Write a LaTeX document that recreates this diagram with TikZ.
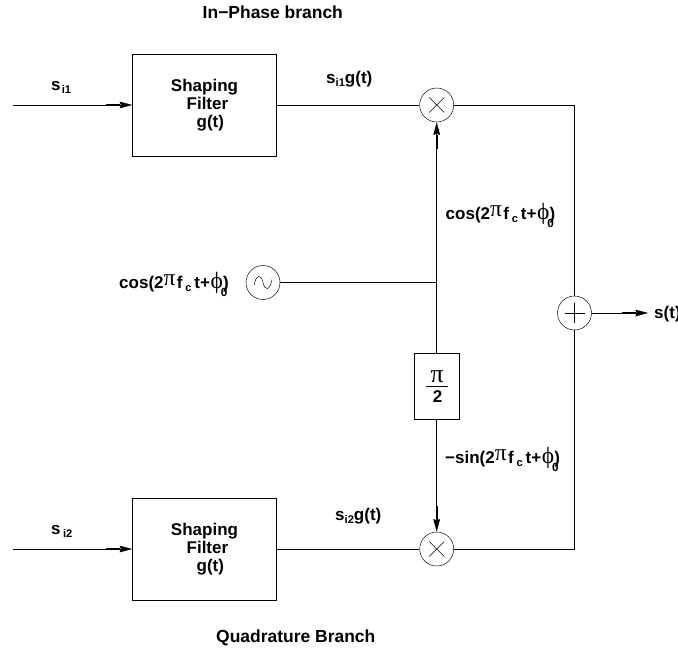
\documentclass[tikz,border=0pt]{standalone}
\usepackage{fontspec}
\setmainfont{Liberation Sans}
\newfontfamily\greekfam{Liberation Serif}
\usetikzlibrary{arrows.meta,calc}
\tikzset{
  lbl/.style={font=\fontsize{14.5}{16}\selectfont\bfseries,inner sep=0pt,anchor=base west},
  titlelbl/.style={font=\fontsize{14.9}{16}\selectfont\bfseries,inner sep=0pt,anchor=base west},
  filterbox/.style={draw,minimum width=144*0.03cm,minimum height=102*0.03cm,align=center,inner sep=0pt,
    font=\fontsize{14.5}{15.4}\selectfont\bfseries},
  ring/.style={draw,circle,minimum size=34*0.03cm,inner sep=0pt},
  mixer/.style={ring,path picture={
    \draw ($(path picture bounding box.center)+(-7.5,-7.5)$) -- ++(15,15);
    \draw ($(path picture bounding box.center)+(-7.5,7.5)$) -- ++(15,-15);}},
  adder/.style={ring,path picture={
    \draw ($(path picture bounding box.center)+(-10,0)$) -- ++(20,0);
    \draw ($(path picture bounding box.center)+(0,-10)$) -- ++(0,20);}},
  osc/.style={ring,path picture={
    \draw ($(path picture bounding box.center)+(-9,3)$)
      .. controls +(2,-11) and +(-2,-9) .. ++(9,-3)
      .. controls +(2,9) and +(-2,11) .. ++(9,-3);}},
  sig/.style={-{Rectangle[length=0.4cm,width=1.3pt,sep=0pt]Stealth[length=0.38cm,width=0.2cm,inset=0.04cm]}},
  line width=0.7pt
}
\newcommand{\subdn}[1]{\raisebox{-2.6pt}{\fontsize{9.5}{10}\selectfont #1}}
\newcommand{\carrier}[1]{#1(2\raisebox{2.5pt}{\greekfam\fontsize{20}{17}\selectfont\mdseries π}\kern1.2pt f\,\subdn{c}\kern2.5pt t+\kern0.6pt{\greekfam\fontsize{20}{17}\selectfont\mdseries ϕ}\rlap{\raisebox{-7pt}{\kern-1.8pt\fontsize{10}{10}\selectfont 0}})}
\begin{document}
\begin{tikzpicture}[x=0.03cm,y=-0.03cm]
  \useasboundingbox (0,0) rectangle (678,647);
  \node[filterbox] (fI) at (204.5,105.5) {Shaping\\\hspace*{5pt}Filter\\\hspace*{10pt}g(t)};
  \node[filterbox] (fQ) at (204.5,549) {Shaping\\\hspace*{5pt}Filter\\\hspace*{10pt}g(t)};
  \node[mixer] (mI) at (436.7,105) {};
  \node[mixer] (mQ) at (436.7,549) {};
  \node[adder] (sum) at (574.5,313) {};
  \node[osc] (lo) at (263,282.5) {};
  \node[draw,minimum width=45*0.03cm,minimum height=66*0.03cm,inner sep=0pt] (shift) at (436.7,386) {};
  \coordinate (inI) at (13,105);
  \coordinate (inQ) at (13,549);
  \coordinate (out) at (648,313);
  \coordinate (tap) at (436.7,282.5);
  \coordinate (cI) at (574.5,105);
  \coordinate (cQ) at (574.5,549);
  % inputs and filter outputs
  \draw[sig] (inI) -- (fI.west |- inI);
  \draw[sig] (inQ) -- (fQ.west |- inQ);
  \draw (fI.east |- mI) -- (mI);
  \draw (fQ.east |- mQ) -- (mQ);
  % carrier
  \draw (lo) -- (tap);
  \draw (shift) -- (tap);
  \draw[sig] (tap) -- (mI);
  \draw[sig] (shift) -- (mQ);
  % summing
  \draw (mI) -- (cI) -- (sum);
  \draw (mQ) -- (cQ) -- (sum);
  \draw[sig] (sum) -- (out);
  % labels
  \node[titlelbl] (tI) at (202.5,19) {In−Phase branch};
  \node[titlelbl] (tQ) at (216,642) {Quadrature Branch};
  \node[lbl] (sI) at (51,90) {s\kern1pt\subdn{i1}};
  \node[lbl] (sQ) at (51,534) {s\kern2pt\subdn{i2}};
  \node[lbl] (gI) at (326,83) {s\subdn{i1}g(t)};
  \node[lbl] (gQ) at (335,520) {s\subdn{i2}g(t)};
  \node[lbl] (cosR) at (445.5,219) {\carrier{cos}};
  \node[lbl] (cosL) at (119,288) {\carrier{cos}};
  \node[lbl] (sinR) at (445,463) {\carrier{−sin}};
  \node[lbl] (st) at (654,318) {s(t)};
  \node[inner sep=0pt,anchor=base,font=\greekfam\fontsize{22}{22}\selectfont] (piTop) at (437,382) {π};
  \node[lbl,anchor=base] (piBot) at (437.5,402) {2};
  \draw[line width=0.5pt] (426,386) -- (448,386);
\end{tikzpicture}
\end{document}
